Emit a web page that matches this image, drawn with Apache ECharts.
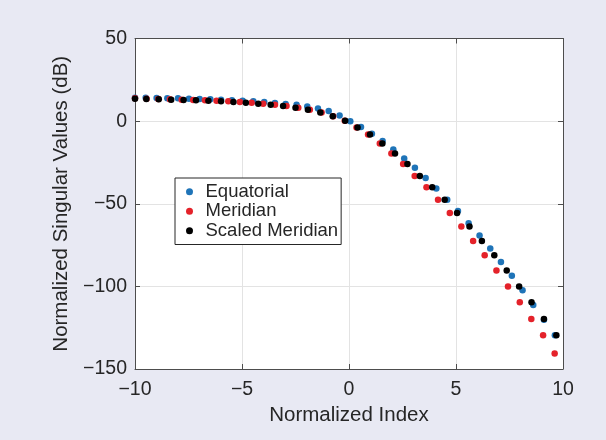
<!DOCTYPE html>
<html>
<head>
<meta charset="utf-8">
<script src="https://cdn.jsdelivr.net/npm/echarts@6/dist/echarts.min.js"></script>
<style>
  html, body { margin: 0; padding: 0; background: #e8e9f3; }
  #chart { width: 606px; height: 440px; }
</style>
</head>
<body>
<div id="chart"></div>
<script>
// Normalized singular value spectra (dB) against normalized index.
const equatorialIndex = [
  -10.00, -9.50, -8.99, -8.49, -7.99, -7.48, -6.98, -6.48, -5.98, -5.47,
  -4.97, -4.47, -3.96, -3.46, -2.96, -2.45, -1.95, -1.45, -0.95, -0.44,
  0.06, 0.56, 1.07, 1.57, 2.07, 2.58, 3.08, 3.58, 4.08, 4.59,
  5.09, 5.59, 6.10, 6.60, 7.10, 7.61, 8.11, 8.61, 9.11, 9.62
];
const equatorialDb = [
  14.2, 14.1, 14.0, 13.9, 13.8, 13.6, 13.4, 13.2, 12.9, 12.6,
  12.3, 12.0, 11.5, 11.0, 10.4, 9.9, 8.9, 7.6, 6.2, 3.4,
  0.0, -3.6, -7.6, -12.0, -17.2, -22.6, -28.2, -34.4, -40.8, -47.6,
  -54.4, -61.8, -69.2, -77.1, -85.2, -93.6, -102.3, -111.2, -120.2, -129.6
];
const meridianIndex = [
  -10.00, -9.46, -8.91, -8.37, -7.82, -7.28, -6.73, -6.19, -5.64, -5.10,
  -4.55, -4.01, -3.46, -2.92, -2.37, -1.83, -1.28, -0.74, -0.20, 0.35,
  0.89, 1.44, 1.98, 2.53, 3.07, 3.62, 4.16, 4.71, 5.25, 5.80,
  6.34, 6.89, 7.43, 7.98, 8.52, 9.07, 9.61
];
const meridianDb = [
  13.8, 13.6, 13.4, 13.2, 13.0, 12.8, 12.6, 12.3, 12.0, 11.6,
  11.1, 10.5, 9.9, 9.1, 8.1, 6.9, 5.2, 3.0, 0.2, -3.9,
  -8.1, -13.6, -19.6, -26.0, -33.2, -40.0, -47.6, -55.6, -63.8, -72.6,
  -81.2, -90.4, -100.0, -109.6, -119.8, -129.6, -140.6
];
// Scaled meridian: same singular values (meridianDb[1..35]) on a stretched index.
const scaledIndex = [
  -10.00, -9.47, -8.89, -8.31, -7.73, -7.15, -6.57, -5.98, -5.40, -4.82,
  -4.24, -3.66, -3.08, -2.50, -1.92, -1.34, -0.76, -0.18, 0.40, 0.98,
  1.56, 2.15, 2.73, 3.31, 3.89, 4.47, 5.05, 5.63, 6.21, 6.79,
  7.37, 7.95, 8.53, 9.11, 9.69
];
const scaledDb = meridianDb.slice(1, 1 + scaledIndex.length);

const xTicks = [-10, -5, 0, 5, 10];
const yTicks = [-150, -100, -50, 0, 50];

const seriesNames = ['Equatorial', 'Meridian', 'Scaled Meridian'];
const seriesColors = ['#1f74b8', '#e4222a', '#000000'];

const pair = (xs, ys) => xs.map((x, i) => [x, ys[i]]);

const FONT = '"Liberation Sans", Arial, Helvetica, sans-serif';
const TEXT = '#262626';
const AXIS = '#4d4d4d';

const chart = echarts.init(document.getElementById('chart'), null, { renderer: 'canvas' });

const baseAxis = {
  axisLine: { show: true, onZero: false, lineStyle: { color: AXIS, width: 1 } },
  axisTick: { show: true, inside: true, length: 5, lineStyle: { color: AXIS } },
};

const minusFormatter = v => (v < 0 ? '\u2212' + Math.abs(v) : String(v));

chart.setOption({
  backgroundColor: '#e8e9f3',
  animation: false,
  textStyle: { fontFamily: FONT },
  grid: {
    left: 135, right: 43, top: 38.5, bottom: 71,
    show: true, backgroundColor: '#ffffff', borderWidth: 0
  },
  legend: {
    orient: 'vertical',
    left: 175, top: 178,
    data: seriesNames,
    icon: 'circle',
    itemWidth: 22, itemHeight: 7,
    itemGap: 0,
    padding: [4, 3, 4, 11],
    backgroundColor: '#ffffff',
    borderColor: '#262626', borderWidth: 1, borderRadius: 0,
    textStyle: { fontFamily: FONT, fontSize: 18.5, color: TEXT, lineHeight: 19.5 }
  },
  xAxis: [
    Object.assign({}, baseAxis, {
      type: 'value', position: 'bottom',
      min: xTicks[0], max: xTicks[xTicks.length - 1], interval: 5,
      name: 'Normalized Index', nameLocation: 'middle', nameGap: 33,
      nameTextStyle: { fontFamily: FONT, fontSize: 20.5, color: TEXT },
      axisLabel: { margin: 11, fontFamily: FONT, fontSize: 19.5, color: TEXT, formatter: minusFormatter },
      splitLine: { show: true, lineStyle: { color: '#e3e3e3', width: 1 } }
    }),
    Object.assign({}, baseAxis, {
      type: 'value', position: 'top',
      min: xTicks[0], max: xTicks[xTicks.length - 1], interval: 5,
      axisLabel: { show: false }, splitLine: { show: false }
    })
  ],
  yAxis: [
    Object.assign({}, baseAxis, {
      type: 'value', position: 'left',
      min: yTicks[0], max: yTicks[yTicks.length - 1], interval: 50,
      name: 'Normalized Singular Values (dB)', nameLocation: 'middle', nameGap: 60,
      nameTextStyle: { fontFamily: FONT, fontSize: 20.5, color: TEXT },
      axisLabel: { margin: 8, fontFamily: FONT, fontSize: 19.5, color: TEXT, formatter: minusFormatter },
      splitLine: { show: true, lineStyle: { color: '#e3e3e3', width: 1 } }
    }),
    Object.assign({}, baseAxis, {
      type: 'value', position: 'right',
      min: yTicks[0], max: yTicks[yTicks.length - 1], interval: 50,
      axisLabel: { show: false }, splitLine: { show: false }
    })
  ],
  series: [
    { name: seriesNames[0], data: pair(equatorialIndex, equatorialDb) },
    { name: seriesNames[1], data: pair(meridianIndex, meridianDb) },
    { name: seriesNames[2], data: pair(scaledIndex, scaledDb) }
  ].map((s, i) => Object.assign({
    type: 'scatter',
    xAxisIndex: 0, yAxisIndex: 0,
    symbol: 'circle', symbolSize: 6.5,
    itemStyle: { color: seriesColors[i], opacity: 1 },
    z: 2 + i
  }, s))
});
</script>
</body>
</html>
